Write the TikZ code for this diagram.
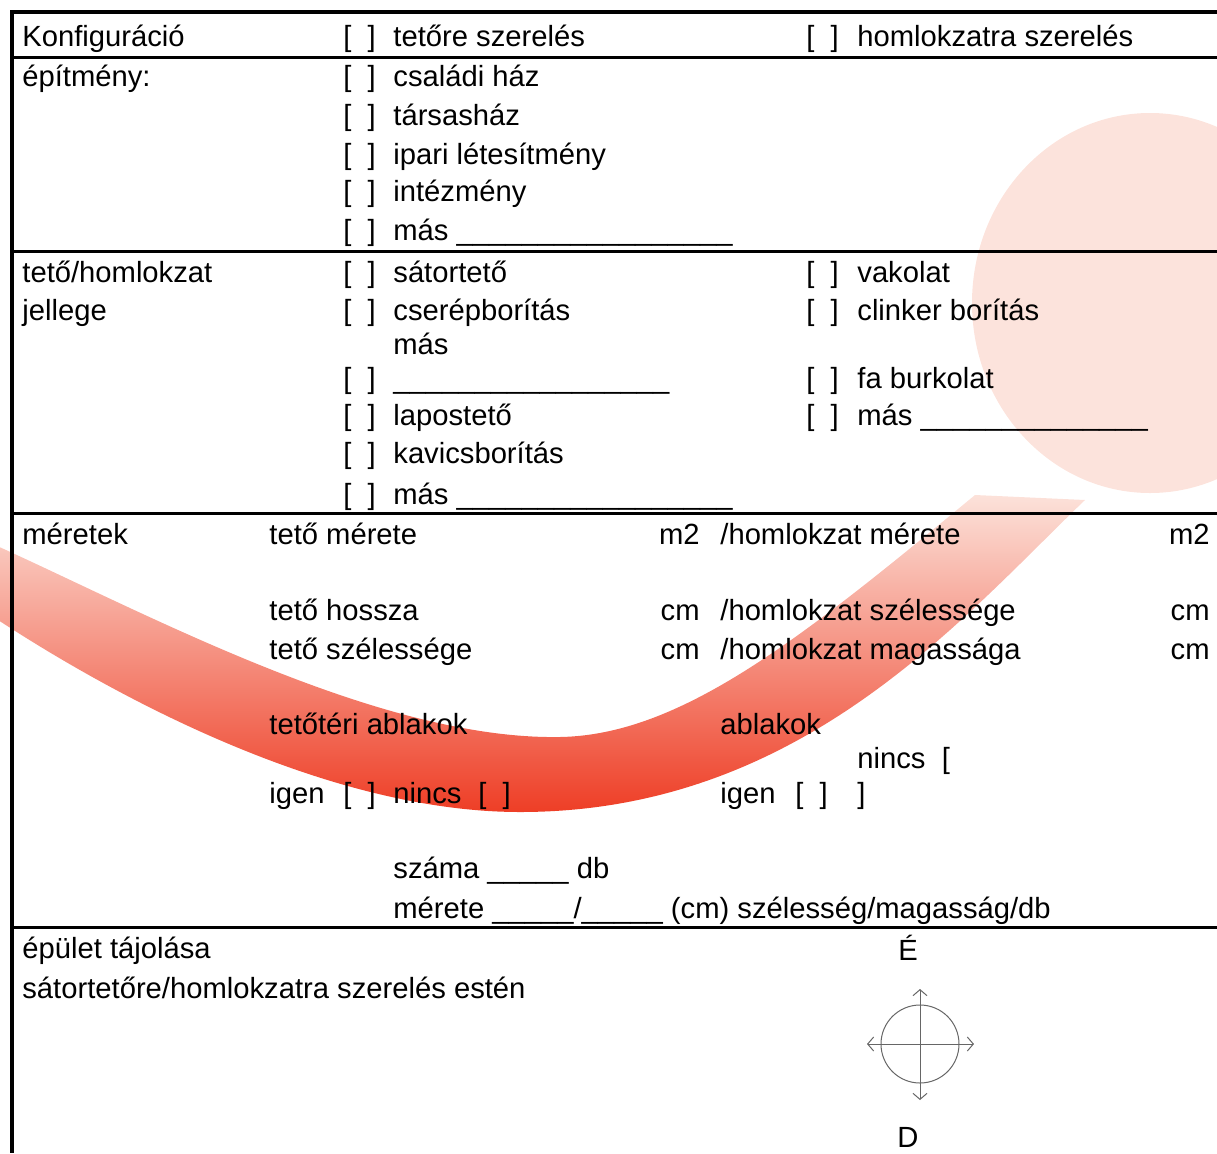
\documentclass[tikz,border=0pt]{standalone}
\usepackage{fontspec}
\setmainfont{Liberation Sans}
\usetikzlibrary{arrows.meta}
\definecolor{logopink}{RGB}{252,227,220}
\definecolor{logolight}{RGB}{252,226,218}
\definecolor{logomid}{RGB}{246,150,128}
\definecolor{logored}{RGB}{238,62,38}
\tikzset{
    %Define style for the form texts
    txt/.style={
           anchor=base west,
           inner sep=0pt,
           font=\fontsize{14.6}{17}\selectfont},
    unittxt/.style={
           txt,
           anchor=base east},
    mid/.style={
           txt,
           anchor=base},
    % Define line styles
    outerline/.style={line width=2pt},
    sepline/.style={line width=1.5pt},
    compass/.style={
           draw=black!60,
           line width=0.5pt},
    dirarrow/.style={
           compass,
           {Straight Barb[length=3pt,width=7pt]}-{Straight Barb[length=3pt,width=7pt]}}
}
\begin{document}
\begin{tikzpicture}[x=0.5pt,y=-0.5pt]
\useasboundingbox (0,0) rectangle (1217,1153);
% logo in the background
\fill[logopink] (1150,303) ellipse [x radius=178, y radius=190];
\shade[top color=logolight, middle color=logomid, bottom color=logored]
    (-5,545) .. controls (150,615) and (380,740) .. (560,737)
    .. controls (680,735) and (800,640) .. (975,495)
    -- (1085,500)
    .. controls (960,620) and (800,812) .. (520,812)
    .. controls (330,812) and (120,700) .. (-5,618) -- cycle;
% rules
\draw[outerline] (10,12) -- (1217,12);
\draw[outerline] (12,10) -- (12,1153);
\foreach \yy in {57,251,513,927}
    \draw[sepline] (12,\yy) -- (1217,\yy);
% Konfiguráció
\node[txt] (konf) at (22,46) {Konfiguráció};
\node[txt] (cbTet) at (343,46) {[\ \ ]};
\node[txt] (tetore) at (393,46) {tetőre szerelés};
\node[txt] (cbHom) at (806,46) {[\ \ ]};
\node[txt] (homsz) at (857,46) {homlokzatra szerelés};
% építmény
\node[txt] (epit) at (22,86) {építmény:};
\node[txt] (cbCsa) at (343,86) {[\ \ ]};
\node[txt] (csal) at (393,86) {családi ház};
\node[txt] (cbTar) at (343,125) {[\ \ ]};
\node[txt] (tars) at (393,125) {társasház};
\node[txt] (cbIpa) at (343,164) {[\ \ ]};
\node[txt] (ipar) at (393,164) {ipari létesítmény};
\node[txt] (cbInt) at (343,201) {[\ \ ]};
\node[txt] (intez) at (393,201) {intézmény};
\node[txt] (cbMas1) at (343,240) {[\ \ ]};
\node[txt] (mas1) at (393,240) {más \_\_\_\_\_\_\_\_\_\_\_\_\_\_\_\_\_};
% tető/homlokzat jellege
\node[txt] (jell1) at (22,282) {tető/homlokzat};
\node[txt] (jell2) at (22,320) {jellege};
\node[txt] (cbSat) at (343,282) {[\ \ ]};
\node[txt] (sator) at (393,282) {sátortető};
\node[txt] (cbCse) at (343,320) {[\ \ ]};
\node[txt] (cserep) at (393,320) {cserépborítás};
\node[txt] (mas2) at (393,354) {más};
\node[txt] (cbMas2) at (343,388) {[\ \ ]};
\node[txt] (vonal2) at (393,388) {\_\_\_\_\_\_\_\_\_\_\_\_\_\_\_\_\_};
\node[txt] (cbLap) at (343,425) {[\ \ ]};
\node[txt] (lapos) at (393,425) {lapostető};
\node[txt] (cbKav) at (343,463) {[\ \ ]};
\node[txt] (kavics) at (393,463) {kavicsborítás};
\node[txt] (cbMas3) at (343,504) {[\ \ ]};
\node[txt] (mas3) at (393,504) {más \_\_\_\_\_\_\_\_\_\_\_\_\_\_\_\_\_};
\node[txt] (cbVak) at (806,282) {[\ \ ]};
\node[txt] (vakolat) at (857,282) {vakolat};
\node[txt] (cbCli) at (806,320) {[\ \ ]};
\node[txt] (clinker) at (857,320) {clinker borítás};
\node[txt] (cbFa) at (806,388) {[\ \ ]};
\node[txt] (fabur) at (857,388) {fa burkolat};
\node[txt] (cbMas4) at (806,425) {[\ \ ]};
\node[txt] (mas4) at (857,425) {más \_\_\_\_\_\_\_\_\_\_\_\_\_\_};
% méretek
\node[txt] (meret) at (22,544) {méretek};
\node[txt] (tmer) at (269,544) {tető mérete};
\node[unittxt] (u1) at (700,544) {m2};
\node[txt] (hmer) at (720,544) {/homlokzat mérete};
\node[unittxt] (u2) at (1210,544) {m2};
\node[txt] (thossz) at (269,620) {tető hossza};
\node[unittxt] (u3) at (700,620) {cm};
\node[txt] (hszel) at (720,620) {/homlokzat szélessége};
\node[unittxt] (u4) at (1210,620) {cm};
\node[txt] (tszel) at (269,659) {tető szélessége};
\node[unittxt] (u5) at (700,659) {cm};
\node[txt] (hmag) at (720,659) {/homlokzat magassága};
\node[unittxt] (u6) at (1210,659) {cm};
\node[txt] (tabl) at (269,734) {tetőtéri ablakok};
\node[txt] (habl) at (720,734) {ablakok};
\node[txt] (nincsB) at (857,768) {nincs\ \ [};
\node[txt] (igenA) at (269,803) {igen};
\node[txt] (cbIgA) at (343,803) {[\ \ ]};
\node[txt] (nincsA) at (393,803) {nincs};
\node[txt] (cbNiA) at (478,803) {[\ \ ]};
\node[txt] (igenB) at (720,803) {igen};
\node[txt] (cbIgB) at (795,803) {[\ \ ]};
\node[txt] (zarB) at (857,803) {]};
\node[txt] (szama) at (393,878) {száma \_\_\_\_\_ db};
\node[txt] (merete) at (393,918) {mérete \_\_\_\_\_/\_\_\_\_\_ (cm) szélesség/magasság/db};
% épület tájolása
\node[txt] (taj) at (22,958) {épület tájolása};
\node[txt] (taj2) at (22,998) {sátortetőre/homlokzatra szerelés estén};
\node[mid] (eszak) at (908,960) {É};
\node[mid] (del) at (908,1147) {D};
\coordinate (cc) at (920,1044);
\coordinate (cN) at (920,989);
\coordinate (cS) at (920,1100);
\coordinate (cW) at (867,1044);
\coordinate (cE) at (974,1044);
\draw[compass] (cc) circle [radius=39];
\draw[dirarrow] (cS) -- (cN);
\draw[dirarrow] (cW) -- (cE);
\end{tikzpicture}
\end{document}
